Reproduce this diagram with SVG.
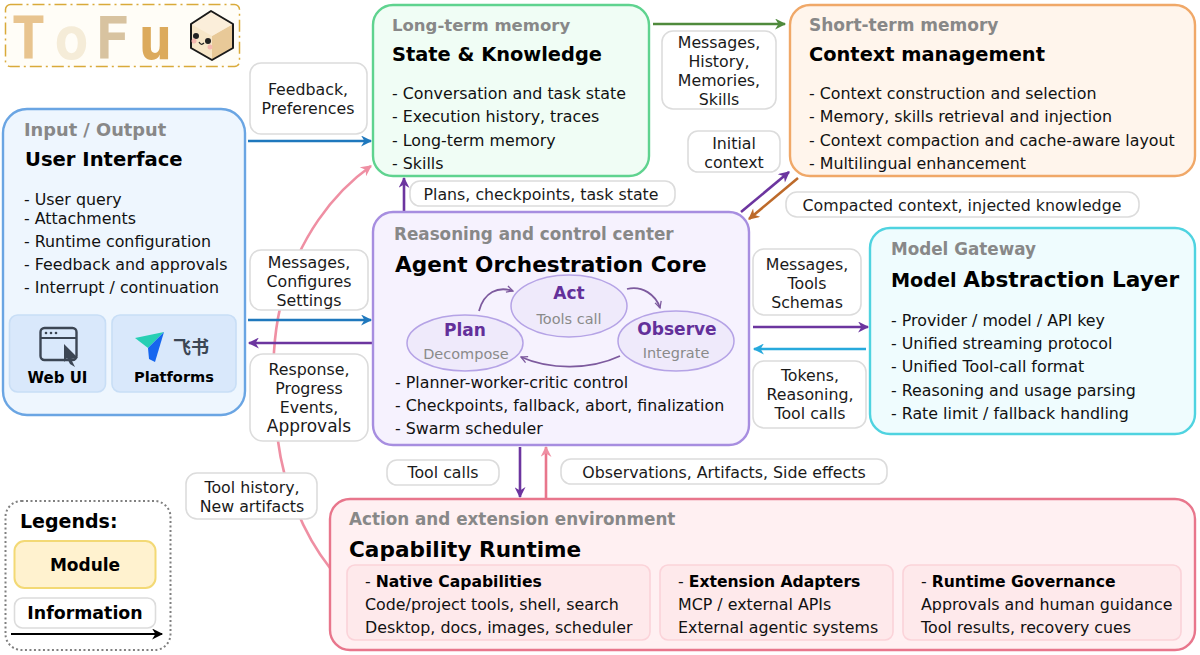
<svg xmlns="http://www.w3.org/2000/svg" width="1200" height="655" viewBox="0 0 1200 655">
<style>
text{font-family:"DejaVu Sans","Noto Sans CJK SC",sans-serif;fill:#111}
.k{font-size:16.800px;font-weight:700;fill:#888}
.t{font-size:19.400px;font-weight:700;fill:#000}
.b{font-size:15.850px}
.l{font-size:15.800px;text-anchor:middle;fill:#1a1a1a}
.lb{fill:#fff;stroke:#dcdcdc;stroke-width:1.6}
.n{stroke-width:2.4}
.c{fill:none;stroke-width:2.6}
.e{fill:#efeafb;stroke:#b5a3e6;stroke-width:1.5}
.eh{font-size:17px;font-weight:700;text-anchor:middle;fill:#63309a}
.es{font-size:14.500px;text-anchor:middle;fill:#8a8a8a}
.lp{fill:none;stroke:#7d5a9e;stroke-width:1.8}
.s{fill:#fee9eb;stroke:#fbd3d9;stroke-width:1.6}
.u{fill:#d9e8fb;stroke:#c8def6;stroke-width:1.6}
.hd{font-size:15.600px;font-weight:700;fill:#000}
.lg{font-family:"DejaVu Sans Mono",monospace;font-size:58px;font-weight:700}
</style>
<defs>
<marker id="ab" viewBox="0 0 10 10" refX="9" refY="5" markerWidth="12" markerHeight="11" markerUnits="userSpaceOnUse" orient="auto"><path d="M0 0L10 5L0 10L3 5Z" fill="#1f78bd"/></marker>
<marker id="ap" viewBox="0 0 10 10" refX="9" refY="5" markerWidth="12" markerHeight="11" markerUnits="userSpaceOnUse" orient="auto"><path d="M0 0L10 5L0 10L3 5Z" fill="#6c359f"/></marker>
<marker id="ag" viewBox="0 0 10 10" refX="9" refY="5" markerWidth="12" markerHeight="11" markerUnits="userSpaceOnUse" orient="auto"><path d="M0 0L10 5L0 10L3 5Z" fill="#4f8a3c"/></marker>
<marker id="ao" viewBox="0 0 10 10" refX="9" refY="5" markerWidth="12" markerHeight="11" markerUnits="userSpaceOnUse" orient="auto"><path d="M0 0L10 5L0 10L3 5Z" fill="#bd6a2a"/></marker>
<marker id="ac" viewBox="0 0 10 10" refX="9" refY="5" markerWidth="12" markerHeight="11" markerUnits="userSpaceOnUse" orient="auto"><path d="M0 0L10 5L0 10L3 5Z" fill="#27a9dc"/></marker>
<marker id="ar" viewBox="0 0 10 10" refX="9" refY="5" markerWidth="12" markerHeight="11" markerUnits="userSpaceOnUse" orient="auto"><path d="M0 0L10 5L0 10L3 5Z" fill="#ef8fa3"/></marker>
<marker id="ak" viewBox="0 0 10 10" refX="9" refY="5" markerWidth="12" markerHeight="11" markerUnits="userSpaceOnUse" orient="auto"><path d="M0 0L10 5L0 10L3 5Z" fill="#000"/></marker>
<marker id="al" viewBox="0 0 10 10" refX="9" refY="5" markerWidth="8" markerHeight="8" markerUnits="userSpaceOnUse" orient="auto"><path d="M1 1L9 5L1 9" fill="none" stroke="#7d5a9e" stroke-width="1.6"/></marker>
</defs>

<g id="logo">
<rect x="5.500" y="4.500" width="234" height="62" rx="5" fill="#fffdf7" stroke="#d9aa3a" stroke-width="1.500" stroke-dasharray="12 4 2 4"/>
<text class="lg" x="11" y="59" style="fill:#e8c48f">T</text>
<text class="lg" x="54" y="59" style="fill:#f5ecd8">o</text>
<text class="lg" x="95" y="59" style="fill:#d8c3a0">F</text>
<text class="lg" x="138" y="59" style="fill:#dcaa5c">u</text>
<path d="M211 11L233 24V48L212 60L191 48V24Z" fill="#f7e6c8"/>
<path d="M233 24V48L212 60V36Z" fill="#e8c998"/>
<path d="M191 24L211 11L233 24L212 36Z" fill="#fbeeda"/>
<path d="M211 11L233 24V48L212 60L191 48V24Z" fill="none" stroke="#1a1a1a" stroke-width="2" stroke-linejoin="round"/>
<circle cx="196" cy="36" r="3" fill="#222"/><circle cx="208" cy="41" r="3" fill="#222"/>
<circle cx="194" cy="41" r="2.500" fill="#f5b8b0"/><circle cx="210" cy="47" r="2.500" fill="#f5b8b0"/>
<path d="M199 42Q201 46 204 43" fill="none" stroke="#222" stroke-width="1.200"/>
</g>

<g id="connectors">
<path class="c" d="M330 568C300 530 283 480 278 441C270 380 272 330 285 290C300 240 330 195 371 166" stroke="#ef8fa3" marker-end="url(#ar)"/>
<path class="c" d="M248 141H371" stroke="#1f78bd" marker-end="url(#ab)"/>
<path class="c" d="M248 320H371" stroke="#1f78bd" marker-end="url(#ab)"/>
<path class="c" d="M372 343H249" stroke="#6c359f" marker-end="url(#ap)"/>
<path class="c" d="M404 211V178" stroke="#6c359f" marker-end="url(#ap)"/>
<path class="c" d="M653 24H785" stroke="#4f8a3c" marker-end="url(#ag)"/>
<path class="c" d="M741 212L789 172" stroke="#6c359f" marker-end="url(#ap)"/>
<path class="c" d="M798 178L749 219" stroke="#bd6a2a" marker-end="url(#ao)"/>
<path class="c" d="M753 327H868" stroke="#6c359f" marker-end="url(#ap)"/>
<path class="c" d="M866 349H754" stroke="#27a9dc" marker-end="url(#ac)"/>
<path class="c" d="M520 447V497" stroke="#6c359f" marker-end="url(#ap)"/>
<path class="c" d="M546 498V447" stroke="#e8768c" marker-end="url(#ar)"/>
</g>

<g id="user-interface">
<rect class="n" x="3" y="109" width="242" height="306" rx="24" fill="#eef6fe" stroke="#6aa5e3"/>
<text class="k" x="24" y="136" style="font-size:17.800px">Input / Output</text>
<text class="t" x="25" y="166" style="font-size:19.600px">User Interface</text>
<text class="b" x="24" y="205">- User query</text>
<text class="b" x="24" y="224">- Attachments</text>
<text class="b" x="24" y="247">- Runtime configuration</text>
<text class="b" x="24" y="270">- Feedback and approvals</text>
<text class="b" x="24" y="293">- Interrupt / continuation</text>
<rect class="u" x="9.500" y="315" width="96" height="77" rx="8"/>
<rect class="u" x="112" y="315" width="124" height="77" rx="8"/>
<rect x="40.500" y="328" width="36" height="32" rx="4" fill="none" stroke="#3c4654" stroke-width="2.400"/>
<path d="M41 338H76" stroke="#3c4654" stroke-width="2"/>
<circle cx="46" cy="333" r="1.300" fill="#3c4654"/><circle cx="51" cy="333" r="1.300" fill="#3c4654"/><circle cx="56" cy="333" r="1.300" fill="#3c4654"/>
<path d="M64 344L78 358L71 359L75 367L70 364L67 358L64 362Z" fill="#3c4654"/>
<text x="57.500" y="383" style="font-size:15px;font-weight:700;text-anchor:middle;fill:#000">Web UI</text>
<path d="M135 338L164 332L148 348Z" fill="#27cfb4"/>
<path d="M164 332L155 362L149 359L148 348Z" fill="#1666ef"/>
<text x="191" y="354" style="font-family:'Noto Sans CJK SC','DejaVu Sans',sans-serif;font-size:18px;font-weight:700;text-anchor:middle;fill:#3c4654">飞书</text>
<text x="174" y="382" style="font-size:14.600px;font-weight:700;text-anchor:middle;fill:#000">Platforms</text>
</g>

<g id="long-term-memory">
<rect class="n" x="373" y="5" width="276" height="171" rx="20" fill="#f0fdf5" stroke="#5fd38f"/>
<text class="k" x="392" y="31" style="font-size:16.500px">Long-term memory</text>
<text class="t" x="392" y="61">State &amp; Knowledge</text>
<text class="b" x="392" y="99">- Conversation and task state</text>
<text class="b" x="392" y="122">- Execution history, traces</text>
<text class="b" x="392" y="146">- Long-term memory</text>
<text class="b" x="392" y="169">- Skills</text>
</g>

<g id="short-term-memory">
<rect class="n" x="790" y="5" width="405" height="171" rx="20" fill="#fff5ec" stroke="#f0a868"/>
<text class="k" x="809" y="31" style="font-size:17px">Short-term memory</text>
<text class="t" x="809" y="61">Context management</text>
<text class="b" x="809" y="99">- Context construction and selection</text>
<text class="b" x="809" y="122">- Memory, skills retrieval and injection</text>
<text class="b" x="809" y="146">- Context compaction and cache-aware layout</text>
<text class="b" x="809" y="169">- Multilingual enhancement</text>
</g>

<g id="core">
<rect class="n" x="373" y="212" width="376" height="233" rx="20" fill="#f6f2fe" stroke="#a78ee0"/>
<text class="k" x="394" y="240">Reasoning and control center</text>
<text x="395" y="272" style="font-size:21.600px;font-weight:700;fill:#000">Agent Orchestration Core</text>
<path class="lp" d="M479 311C484 292 498 286 513 291" marker-end="url(#al)"/>
<path class="lp" d="M627 289C642 285 656 295 660 308" marker-end="url(#al)"/>
<path class="lp" d="M620 356C590 370 550 370 521 357" marker-end="url(#al)"/>
<g id="act"><ellipse class="e" cx="569" cy="306" rx="58" ry="31"/><text class="eh" x="569" y="299">Act</text><text class="es" x="569" y="324">Tools call</text></g>
<g id="plan"><ellipse class="e" cx="465" cy="343" rx="58" ry="28"/><text class="eh" x="465" y="336">Plan</text><text class="es" x="466" y="359">Decompose</text></g>
<g id="observe"><ellipse class="e" cx="676" cy="341" rx="58" ry="30"/><text class="eh" x="677" y="335">Observe</text><text class="es" x="676" y="358">Integrate</text></g>
<text class="b" x="395" y="388">- Planner-worker-critic control</text>
<text class="b" x="395" y="411">- Checkpoints, fallback, abort, finalization</text>
<text class="b" x="395" y="434">- Swarm scheduler</text>
</g>

<g id="model-gateway">
<rect class="n" x="870" y="228" width="325" height="206" rx="20" fill="#effcfe" stroke="#4fd3e0"/>
<text class="k" x="891" y="255">Model Gateway</text>
<text x="891" y="287" style="font-size:19.200px;font-weight:700;fill:#000">Model <tspan font-size="21.600">Abstraction Layer</tspan></text>
<text class="b" x="891" y="326">- Provider / model / API key</text>
<text class="b" x="891" y="349">- Unified streaming protocol</text>
<text class="b" x="891" y="372">- Unified Tool-call format</text>
<text class="b" x="891" y="396">- Reasoning and usage parsing</text>
<text class="b" x="891" y="419">- Rate limit / fallback handling</text>
</g>

<g id="capability-runtime">
<rect class="n" x="330" y="499" width="865" height="151" rx="20" fill="#fff0f2" stroke="#e8768c"/>
<text class="k" x="349" y="525">Action and extension environment</text>
<text x="349" y="557" style="font-size:21.600px;font-weight:700;fill:#000">Capability Runtime</text>
<rect class="s" x="347" y="565" width="303" height="75" rx="8"/>
<rect class="s" x="660" y="565" width="233" height="75" rx="8"/>
<rect class="s" x="903" y="565" width="278" height="75" rx="8"/>
<text class="b" x="365" y="587">- <tspan class="hd">Native Capabilities</tspan></text>
<text class="b" x="365" y="610">Code/project tools, shell, search</text>
<text class="b" x="365" y="633">Desktop, docs, images, scheduler</text>
<text class="b" x="678" y="587">- <tspan class="hd">Extension Adapters</tspan></text>
<text class="b" x="678" y="610">MCP / external APIs</text>
<text class="b" x="678" y="633">External agentic systems</text>
<text class="b" x="921" y="587">- <tspan class="hd">Runtime Governance</tspan></text>
<text class="b" x="921" y="610">Approvals and human guidance</text>
<text class="b" x="921" y="633">Tool results, recovery cues</text>
</g>

<g id="labels">
<g id="l-feedback"><rect class="lb" x="250" y="63" width="117" height="71" rx="11"/><text class="l" x="308" y="95">Feedback,</text><text class="l" x="308" y="114">Preferences</text></g>
<g id="l-messages"><rect class="lb" x="250" y="250" width="118" height="60" rx="11"/><text class="l" x="309" y="268">Messages,</text><text class="l" x="309" y="287">Configures</text><text class="l" x="309" y="306">Settings</text></g>
<g id="l-response"><rect class="lb" x="250" y="354" width="118" height="87" rx="13"/><text class="l" x="309" y="375">Response,</text><text class="l" x="309" y="394">Progress</text><text class="l" x="309" y="413">Events,</text><text class="l" x="309" y="432" style="font-size:17px">Approvals</text></g>
<g id="l-tool-history"><rect class="lb" x="186" y="473" width="131" height="46" rx="11"/><text class="l" x="252" y="493">Tool history,</text><text class="l" x="252" y="512">New artifacts</text></g>
<g id="l-plans"><rect class="lb" x="410" y="181" width="265" height="25" rx="10"/><text class="l" x="541" y="200">Plans, checkpoints, task state</text></g>
<g id="l-history"><rect class="lb" x="662" y="31" width="114" height="78" rx="11"/><text class="l" x="719" y="48">Messages,</text><text class="l" x="719" y="67">History,</text><text class="l" x="719" y="86">Memories,</text><text class="l" x="719" y="105">Skills</text></g>
<g id="l-initial"><rect class="lb" x="688" y="131" width="92" height="41" rx="10"/><text class="l" x="734" y="149">Initial</text><text class="l" x="734" y="168">context</text></g>
<g id="l-compacted"><rect class="lb" x="786" y="192" width="353" height="25" rx="11"/><text class="l" x="962" y="211">Compacted context, injected knowledge</text></g>
<g id="l-schemas"><rect class="lb" x="753" y="249" width="108" height="66" rx="11"/><text class="l" x="807" y="270">Messages,</text><text class="l" x="807" y="289">Tools</text><text class="l" x="807" y="308">Schemas</text></g>
<g id="l-tokens"><rect class="lb" x="753" y="361" width="113" height="67" rx="11"/><text class="l" x="810" y="381">Tokens,</text><text class="l" x="810" y="400">Reasoning,</text><text class="l" x="810" y="419">Tool calls</text></g>
<g id="l-tool-calls"><rect class="lb" x="387" y="460" width="112" height="25" rx="10"/><text class="l" x="443" y="478">Tool calls</text></g>
<g id="l-observations"><rect class="lb" x="561" y="459" width="326" height="25" rx="10"/><text class="l" x="724" y="478">Observations, Artifacts, Side effects</text></g>
</g>

<g id="legend">
<rect x="5.500" y="501" width="165" height="149" rx="16" fill="#fff" stroke="#808080" stroke-width="2" stroke-dasharray="2 2.500"/>
<text x="20" y="528" style="font-size:19px;font-weight:700;fill:#000">Legends:</text>
<rect x="14.500" y="541" width="141" height="47" rx="10" fill="#fff2cf" stroke="#f3d975" stroke-width="2"/>
<text x="85" y="571" style="font-size:17px;font-weight:700;text-anchor:middle;fill:#000">Module</text>
<rect x="14.500" y="598" width="141" height="30" rx="8" fill="#fff" stroke="#dcdcdc" stroke-width="1.600"/>
<text x="85" y="619" style="font-size:17.400px;font-weight:700;text-anchor:middle;fill:#000">Information</text>
<path d="M11 634H162" stroke="#000" stroke-width="2.200" fill="none" marker-end="url(#ak)"/>
</g>
</svg>
